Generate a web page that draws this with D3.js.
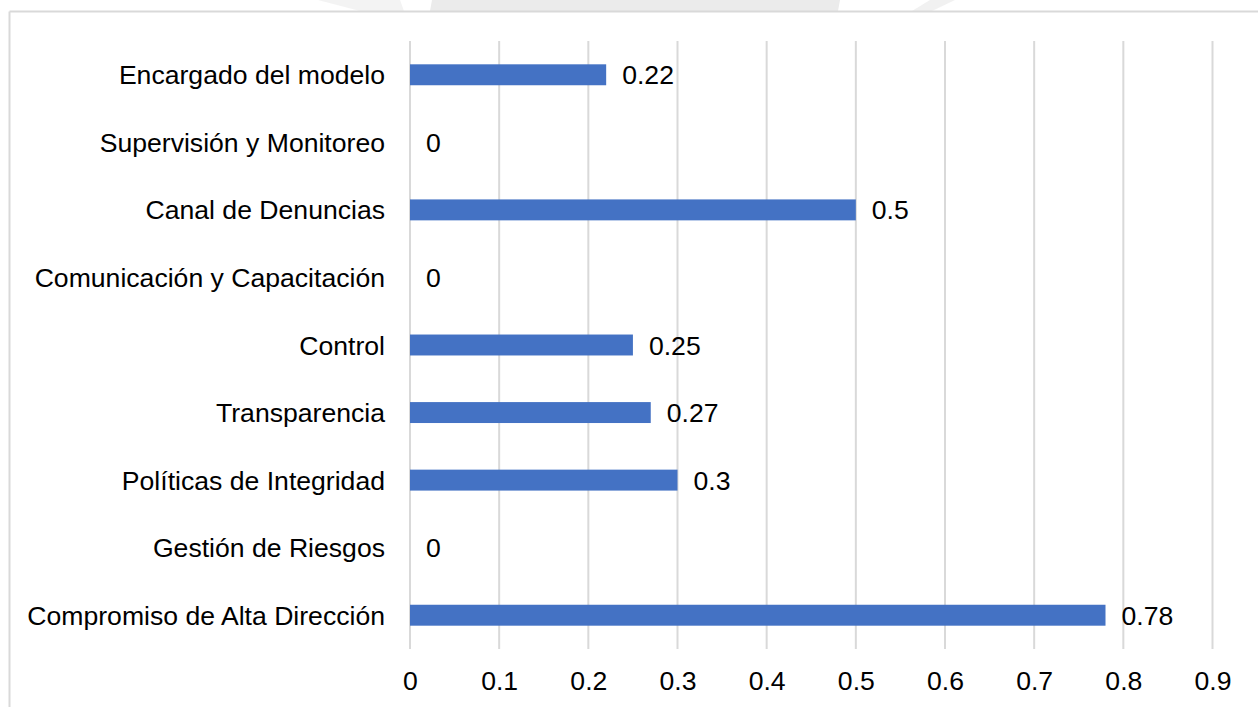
<!DOCTYPE html>
<html>
<head>
<meta charset="utf-8">
<script src="https://cdn.jsdelivr.net/npm/d3@7/dist/d3.min.js"></script>
<style>
  html, body { margin: 0; padding: 0; background: #fff; }
  svg { display: block; }
  text { font-family: "Liberation Sans", Arial, sans-serif; fill: #000; }
</style>
</head>
<body>
<svg id="chart" width="1258" height="707"></svg>
<script>
// Category labels, top to bottom
const categories = [
  "Encargado del modelo",
  "Supervisión y Monitoreo",
  "Canal de Denuncias",
  "Comunicación y Capacitación",
  "Control",
  "Transparencia",
  "Políticas de Integridad",
  "Gestión de Riesgos",
  "Compromiso de Alta Dirección"
];
const values = [0.22, 0, 0.5, 0, 0.25, 0.27, 0.3, 0, 0.78];
const tickValues = [0, 0.1, 0.2, 0.3, 0.4, 0.5, 0.6, 0.7, 0.8, 0.9];

const W = 1258, H = 707;
const margin = { left: 410, right: 45.5, top: 41, bottom: 58 };
const FONT = "'Liberation Sans', Arial, sans-serif";
const FS = 26.6;

const svg = d3.select("#chart");

// faint background emblem peeking above the frame
const bg = svg.append("g").attr("fill", "#ebebeb");
bg.append("path").attr("d", "M318,0 L400,0 L404,11 L360,11 Z").attr("opacity", 0.6);
bg.append("path").attr("d", "M432,0 L840,0 L838,11 L430,11 Z");
bg.append("path").attr("d", "M930,0 L955,0 L932,11 L912,11 Z").attr("opacity", 0.7);

// chart frame (top and left edges)
svg.append("rect").attr("x", 0).attr("y", 11.5).attr("width", W).attr("height", H)
  .attr("fill", "#fff");
svg.append("line").attr("x1", 9.5).attr("x2", W).attr("y1", 11.5).attr("y2", 11.5)
  .attr("stroke", "#d9d9d9").attr("stroke-width", 2);
svg.append("line").attr("x1", 9.5).attr("x2", 9.5).attr("y1", 11.5).attr("y2", H)
  .attr("stroke", "#d9d9d9").attr("stroke-width", 2);

const x = d3.scaleLinear().domain([0, 0.9]).range([margin.left, W - margin.right]);
const y = d3.scaleBand().domain(categories)
  .range([margin.top, H - margin.bottom]).paddingInner(0.69).paddingOuter(0.345);

// vertical gridlines
svg.append("g")
  .selectAll("line").data(tickValues).join("line")
  .attr("x1", d => x(d)).attr("x2", d => x(d))
  .attr("y1", margin.top).attr("y2", H - margin.bottom)
  .attr("stroke", "#d9d9d9").attr("stroke-width", 2);

// x axis tick labels
const xAxis = d3.axisBottom(x).tickValues(tickValues).tickSize(0).tickPadding(0)
  .tickFormat(d => String(+d.toFixed(1)));
const gx = svg.append("g").attr("transform", `translate(0,${H - margin.bottom})`).call(xAxis);
gx.select(".domain").remove();
gx.selectAll("text").attr("font-size", FS).attr("dy", null).attr("y", 41)
  .style("font-family", FONT).attr("fill", "#000");

// category labels
const yAxis = d3.axisLeft(y).tickSize(0).tickPadding(25);
const gy = svg.append("g").attr("transform", `translate(${margin.left},0)`).call(yAxis);
gy.select(".domain").remove();
gy.selectAll("text").attr("font-size", FS).attr("dy", "0.36em")
  .style("font-family", FONT).attr("fill", "#000");

const rows = categories.map((c, i) => ({ c, v: values[i] }));

// bars
svg.append("g").selectAll("rect").data(rows).join("rect")
  .attr("x", x(0))
  .attr("y", d => y(d.c))
  .attr("width", d => x(d.v) - x(0))
  .attr("height", y.bandwidth())
  .attr("fill", "#4472c4");

// value labels
svg.append("g").selectAll("text").data(rows).join("text")
  .attr("x", d => x(d.v) + 16)
  .attr("y", d => y(d.c) + y.bandwidth() / 2)
  .attr("dy", "0.36em")
  .attr("font-size", FS)
  .style("font-family", FONT)
  .text(d => String(d.v));
</script>
</body>
</html>
